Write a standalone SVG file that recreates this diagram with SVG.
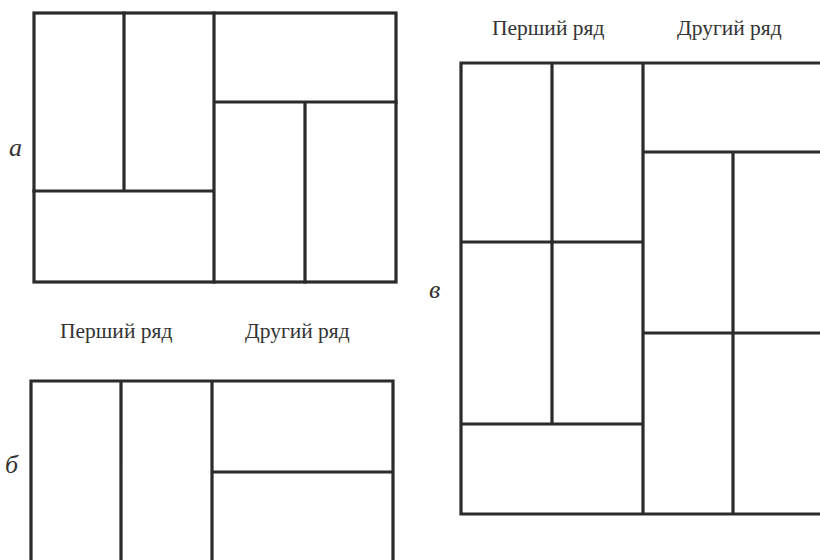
<svg xmlns="http://www.w3.org/2000/svg" width="820" height="560" viewBox="0 0 820 560">
<style>
.w{fill:none;stroke:#2b2b2b;stroke-width:3.2;stroke-linecap:square}
.t{font-family:"Liberation Serif","Times New Roman",serif;font-size:21.5px;fill:#333}
.l{font-family:"Liberation Serif","Times New Roman",serif;font-size:26px;font-style:italic;fill:#333}
</style>
<rect width="820" height="560" fill="#fff"/>
<g id="diagram-a">
<text class="l" x="9" y="156">а</text>
<rect class="w" x="34" y="13" width="362" height="269"/>
<path class="w" d="M124 13V191M214 13V282M34 191H214M214 102H396M305 102V282"/>
</g>
<g id="diagram-b">
<text class="t" x="60" y="338">Перший ряд</text>
<text class="t" x="245" y="338">Другий ряд</text>
<text class="l" x="5" y="473">б</text>
<path class="w" d="M31 562V381H393V562M121 381V562M212 381V562M212 472H393"/>
</g>
<g id="diagram-v">
<text class="t" x="492" y="35">Перший ряд</text>
<text class="t" x="677" y="35">Другий ряд</text>
<text class="l" x="429" y="298">в</text>
<path class="w" d="M822 63H461V514H822M552 63V424M643 63V514M461 242H643M461 424H643M643 152H822M733 152V514M643 333H822"/>
</g>
</svg>
